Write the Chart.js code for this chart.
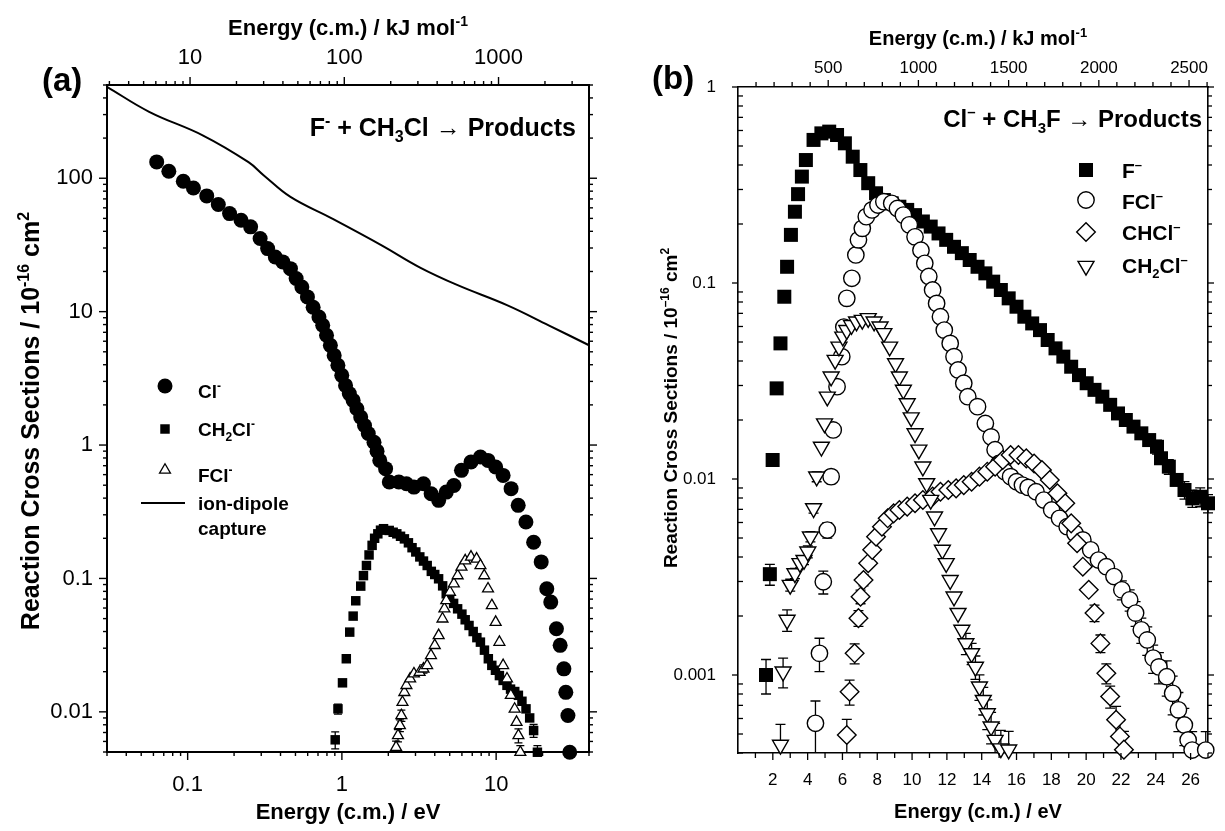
<!DOCTYPE html>
<html>
<head>
<meta charset="utf-8">
<title>Reaction cross sections</title>
<script src="https://cdn.jsdelivr.net/npm/chart.js@4.4.1/dist/chart.umd.min.js"></script>
<style>
    body { margin: 0; background: #fff; }
    #wrap { position: relative; width: 1225px; height: 831px; }
    #wrap canvas { position: absolute; top: 0; }
</style>
</head>
<body>
<div id="wrap">
    <canvas id="chartA" width="612" height="831" style="left:0"></canvas>
    <canvas id="chartB" width="613" height="831" style="left:612px"></canvas>
</div>
<script>
const KJ_PER_EV = 96.485

// start: data (a)  F- + CH3Cl
const aCaptureE = [0.03, 0.0563, 0.126, 0.248, 0.312, 0.464, 0.866, 1.81, 3.19, 5.63, 11.75, 21.9, 40]
const aCaptureS = [485, 315, 209, 132, 105, 72.4, 49.8, 31.4, 21.5, 15.8, 11.2, 7.9, 5.6]

const aClE = [0.063, 0.0755, 0.0937, 0.109, 0.133, 0.158, 0.187, 0.222, 0.256, 0.295,
    0.330, 0.370, 0.414, 0.464, 0.505, 0.550, 0.598, 0.651, 0.710, 0.751,
    0.795, 0.842, 0.891, 0.942, 0.998, 1.056, 1.117, 1.183, 1.251, 1.324,
    1.402, 1.483, 1.615, 1.69, 1.76, 1.92, 2.03, 2.34, 2.62, 2.93,
    3.38, 3.79, 4.24, 4.75, 5.32, 5.96, 6.87, 7.91, 8.86, 9.93,
    11.1, 12.5, 13.9, 15.6, 17.5, 19.6, 21.3, 22.6, 24.6, 26.0,
    27.5, 28.3, 29.2, 30.0]
const aClS = [132.6, 112.9, 95, 84.6, 73.7, 63.5, 54.3, 48.4, 43.2, 35.3,
    29.7, 25.7, 23.6, 21.0, 17.7, 15.3, 12.9, 10.8, 9.12, 7.90,
    6.65, 5.59, 4.70, 3.96, 3.33, 2.80, 2.43, 2.16, 1.87, 1.62,
    1.40, 1.22, 1.05, 0.90, 0.767, 0.665, 0.528, 0.528, 0.513, 0.484,
    0.513, 0.431, 0.385, 0.444, 0.498, 0.646, 0.746, 0.813, 0.767, 0.684,
    0.592, 0.471, 0.353, 0.265, 0.187, 0.133, 0.0837, 0.0665, 0.042, 0.0315,
    0.021, 0.014, 0.00939, 0.00498]

const aCh2ClE = [0.905, 0.943, 1.009, 1.068, 1.124, 1.183, 1.230, 1.325, 1.38, 1.443,
    1.50, 1.570, 1.63, 1.710, 1.78, 1.862, 2.027, 2.15, 2.270, 2.40,
    2.543, 2.70, 2.85, 3.014, 3.2, 3.38, 3.573, 3.8, 4.0, 4.236,
    4.5, 4.747, 5.0, 5.3, 5.627, 6.0, 6.3, 6.671, 7.1, 7.5,
    7.909, 8.4, 8.9, 9.375, 9.9, 10.50, 11.1, 11.76, 12.4, 13.2,
    13.94, 14.7, 15.62, 16.5, 17.50, 18.52]
const aCh2ClS = [0.00617, 0.01053, 0.0165, 0.0250, 0.0396, 0.0522, 0.0680, 0.0876, 0.105, 0.125,
    0.150, 0.177, 0.200, 0.216, 0.230, 0.236, 0.229, 0.222, 0.216, 0.207,
    0.198, 0.185, 0.170, 0.158, 0.145, 0.135, 0.125, 0.113, 0.107, 0.0994,
    0.088, 0.0767, 0.070, 0.065, 0.0592, 0.054, 0.049, 0.0444, 0.040, 0.036,
    0.0333, 0.029, 0.025, 0.0223, 0.0205, 0.0187, 0.0172, 0.0158, 0.0148, 0.0142,
    0.0133, 0.0120, 0.01053, 0.0090, 0.00724, 0.00498]
// [point index, error]
const aCh2ClErr = [[0, 0.0009], [1, 0.0009], [54, 0.0008], [55, 0.0006]]

const aFClE = [2.245, 2.31, 2.377, 2.43, 2.47, 2.54, 2.62, 2.77, 2.93, 3.19,
    3.38, 3.57, 3.78, 4.00, 4.24, 4.49, 4.62, 4.75, 5.02, 5.32,
    5.63, 5.96, 6.30, 6.87, 7.47, 7.91, 8.37, 8.86, 9.38, 9.93,
    10.5, 11.1, 11.76, 12.45, 13.18, 13.56, 13.95, 14.35]
const aFClS = [0.00543, 0.00665, 0.0079, 0.00939, 0.0118, 0.014, 0.0158, 0.0177, 0.0193, 0.0198,
    0.021, 0.0223, 0.0265, 0.0315, 0.0374, 0.0498, 0.0592, 0.0684, 0.079, 0.0912,
    0.105, 0.122, 0.136, 0.145, 0.14, 0.125, 0.105, 0.0837, 0.0627, 0.047,
    0.0333, 0.0223, 0.0177, 0.0133, 0.0105, 0.00837, 0.00665, 0.00498]
const aFClErr = [[0, 0.0006], [1, 0.0007], [2, 0.0008], [3, 0.0009], [10, 0.0015], [36, 0.0008], [37, 0.0006]]

const aEvLabels = [0.1, 1, 10]
const aKjLabels = [10, 100, 1000]
const aYLabels = [0.01, 0.1, 1, 10, 100]
// end: data (a)

// start: data (b)  Cl- + CH3F
const bFE = [1.61, 1.83, 1.99, 2.22, 2.44, 2.66, 2.82, 3.04, 3.27, 3.45,
    3.67, 3.90, 4.34, 4.79, 5.24, 5.69, 6.14, 6.59, 7.03, 7.48,
    7.93, 8.38, 8.83, 9.27, 9.72, 10.17, 10.62, 11.07, 11.52, 11.96,
    12.41, 12.86, 13.31, 13.76, 14.21, 14.66, 15.10, 15.55, 16.00, 16.45,
    16.90, 17.35, 17.79, 18.24, 18.69, 19.14, 19.59, 20.03, 20.48, 20.93,
    21.38, 21.83, 22.28, 22.72, 23.17, 23.62, 24.07, 24.30, 24.75, 25.20,
    25.65, 26.10, 26.55, 27.00]
const bFS = [0.001, 0.00327, 0.0125, 0.029, 0.0492, 0.0851, 0.121, 0.176, 0.231, 0.284,
    0.349, 0.424, 0.537, 0.580, 0.592, 0.569, 0.516, 0.441, 0.377, 0.323,
    0.287, 0.265, 0.255, 0.245, 0.236, 0.222, 0.206, 0.194, 0.179, 0.166,
    0.153, 0.142, 0.131, 0.121, 0.112, 0.1016, 0.0921, 0.0835, 0.0757, 0.0673,
    0.0622, 0.0575, 0.0512, 0.0464, 0.0421, 0.0374, 0.0339, 0.0308, 0.0285, 0.0263,
    0.0239, 0.0216, 0.0200, 0.0185, 0.0171, 0.0158, 0.0146, 0.01276, 0.01156, 0.00989,
    0.00879, 0.00796, 0.00812, 0.00752]
const bFErr = [[0, 0.0002], [1, 0.0004], [56, 0.0012], [58, 0.001], [60, 0.0009], [61, 0.0008], [62, 0.0009], [63, 0.0008]]

const bFClE = [4.45, 4.68, 4.90, 5.13, 5.35, 5.47, 5.69, 5.96, 6.08, 6.25,
    6.54, 6.77, 6.92, 7.14, 7.37, 7.70, 8.04, 8.38, 8.83, 9.16,
    9.50, 9.84, 10.17, 10.51, 10.73, 10.96, 11.18, 11.41, 11.63, 11.85,
    12.19, 12.41, 12.64, 12.97, 13.20, 13.76, 14.21, 14.54, 14.77, 14.99,
    15.33, 15.66, 16.00, 16.34, 16.67, 17.12, 17.57, 18.02, 18.47, 18.91,
    19.36, 19.81, 20.26, 20.71, 21.16, 21.60, 22.05, 22.50, 22.84, 23.17,
    23.51, 23.85, 24.18, 24.63, 24.97, 25.30, 25.64, 25.86, 26.09, 26.87]
const bFClS = [0.000567, 0.00129, 0.00299, 0.00549, 0.01028, 0.0178, 0.0296, 0.0421, 0.0596, 0.0835,
    0.1057, 0.139, 0.166, 0.190, 0.218, 0.236, 0.250, 0.260, 0.255, 0.240,
    0.222, 0.198, 0.172, 0.147, 0.126, 0.108, 0.0921, 0.0787, 0.0673, 0.0575,
    0.0492, 0.0421, 0.0360, 0.0308, 0.0263, 0.0234, 0.0192, 0.0164, 0.0141, 0.0120,
    0.0109, 0.01028, 0.00968, 0.00931, 0.00906, 0.00861, 0.00781, 0.00695, 0.00630, 0.00571,
    0.00528, 0.00489, 0.00435, 0.00386, 0.00357, 0.00318, 0.00272, 0.00242, 0.00207, 0.00170,
    0.00151, 0.00122, 0.00110, 0.00098, 0.000806, 0.000664, 0.000556, 0.000466, 0.000414, 0.000414]
const bFClErr = [[0, 0.00017], [1, 0.00025], [2, 0.0004], [3, 0.0005], [4, 0.0008],
    [56, 0.0003], [57, 0.0003], [58, 0.0003], [59, 0.00025], [60, 0.00025], [61, 0.0002], [62, 0.0002],
    [63, 0.0002], [64, 0.00018], [65, 0.00015], [66, 0.00012], [67, 0.0001], [68, 0.0001], [69, 0.0001]]

const bCHClE = [6.25, 6.41, 6.70, 6.92, 7.04, 7.21, 7.48, 7.71, 7.93, 8.27,
    8.60, 8.94, 9.27, 9.72, 10.17, 10.62, 11.18, 11.63, 12.08, 12.53,
    12.97, 13.42, 13.87, 14.32, 14.77, 15.21, 15.66, 16.11, 16.56, 17.01,
    17.46, 17.91, 18.35, 18.80, 19.14, 19.48, 19.81, 20.15, 20.48, 20.82,
    21.16, 21.38, 21.72, 21.94, 22.17]
const bCHClS = [0.000494, 0.000822, 0.00129, 0.00195, 0.00251, 0.00305, 0.00372, 0.00435, 0.00508, 0.00571,
    0.00630, 0.00668, 0.00695, 0.00723, 0.00752, 0.00782, 0.00813, 0.00861, 0.00879, 0.00896,
    0.00931, 0.00968, 0.01028, 0.0109, 0.01156, 0.0125, 0.01325, 0.01325, 0.01274, 0.0120,
    0.0111, 0.00989, 0.00845, 0.00752, 0.00594, 0.00470, 0.00357, 0.00272, 0.00207, 0.00145,
    0.00102, 0.000777, 0.000591, 0.000486, 0.000416]
const bCHClErr = [[0, 0.0001], [1, 0.00012], [2, 0.00015], [3, 0.00018], [4, 0.0002], [5, 0.0002],
    [38, 0.0002], [39, 0.00015], [40, 0.00012], [41, 0.0001], [42, 0.0001], [43, 0.0001], [44, 0.0001]]

const bCH2ClE = [2.44, 2.59, 2.82, 3.00, 3.27, 3.56, 3.79, 4.01, 4.16, 4.34,
    4.52, 4.79, 4.97, 5.13, 5.35, 5.58, 5.80, 6.02, 6.25, 6.52,
    6.81, 7.14, 7.48, 7.82, 8.16, 8.38, 8.71, 9.05, 9.27, 9.50,
    9.72, 9.95, 10.17, 10.39, 10.62, 10.84, 11.07, 11.29, 11.52, 11.74,
    11.96, 12.19, 12.41, 12.64, 12.86, 13.09, 13.42, 13.64, 13.87, 14.09,
    14.32, 14.54, 14.77, 15.10, 15.55]
const bCH2ClS = [0.00044, 0.00104, 0.00191, 0.00288, 0.00330, 0.00372, 0.00386, 0.00426, 0.00508, 0.00709,
    0.01028, 0.0146, 0.0192, 0.0263, 0.0333, 0.0405, 0.0473, 0.0532, 0.0575, 0.0610,
    0.0635, 0.0648, 0.0661, 0.0635, 0.0599, 0.0554, 0.0473, 0.0389, 0.0333, 0.0285,
    0.0243, 0.0206, 0.0171, 0.0141, 0.01156, 0.00951, 0.00782, 0.00643, 0.00528, 0.00435,
    0.00372, 0.00305, 0.00251, 0.00207, 0.00170, 0.00145, 0.00129, 0.00110, 0.000872, 0.000745,
    0.000637, 0.000545, 0.000466, 0.000422, 0.000416]
const bCH2ClErr = [[0, 0.00012], [1, 0.00018], [2, 0.00024], [3, 0.0002], [4, 0.0002], [5, 0.0002],
    [6, 0.0002], [7, 0.0003], [8, 0.0003], [9, 0.0004], [10, 0.0006],
    [45, 0.00018], [46, 0.00016], [47, 0.00015], [48, 0.00013], [49, 0.00012], [50, 0.00011],
    [51, 0.0001], [52, 0.0001], [53, 0.0001], [54, 0.0001]]

const bEvLabels = [2, 4, 6, 8, 10, 12, 14, 16, 18, 20, 22, 24, 26]
const bKjLabels = [500, 1000, 1500, 2000, 2500]
const bYLabels = [0.001, 0.01, 0.1, 1]
// end: data (b)

const FONT = "'Liberation Sans', Arial, Helvetica, sans-serif"
Chart.defaults.font.family = FONT
Chart.defaults.color = '#000'

function pts(xs, ys) {
    return xs.map((x, i) => ({ x: x, y: ys[i] }))
}

// tick lists: every 1..9 x 10^k on log axes, fixed step on linear ones
function logTicks(min, max, labels) {
    const out = []
    for (let k = Math.floor(Math.log10(min)); k <= Math.ceil(Math.log10(max)); k++) {
        for (let d = 1; d <= 9; d++) {
            const v = +(d * Math.pow(10, k)).toPrecision(3)
            if (v >= min * 0.9999 && v <= max * 1.0001) {
                out.push({ value: v, major: d === 1, txt: labels.includes(v) ? String(v) : '' })
            }
        }
    }
    return out
}

function linTicks(min, max, step, labels, majorStep) {
    const out = []
    for (let v = step; v <= max + 1e-9; v += step) {
        const r = Math.round(v * 1000) / 1000
        if (r < min) continue
        out.push({ value: r, major: Math.abs(r / majorStep - Math.round(r / majorStep)) < 1e-6, txt: labels.includes(r) ? String(r) : '' })
    }
    return out
}

function scale(o) {
    return {
        type: o.type,
        axis: o.axis,
        position: o.position,
        min: o.min,
        max: o.max,
        grid: { display: false, drawTicks: false },
        border: { display: true, color: '#000', width: o.border },
        afterBuildTicks: s => { s.ticks = o.ticks() },
        afterFit: s => {
            if (o.axis === 'x') s.height = o.size
            else s.width = o.size
        },
        ticks: {
            display: o.labels !== false,
            autoSkip: false,
            maxRotation: 0,
            minRotation: 0,
            padding: o.pad || 0,
            font: { size: o.font || 12 },
            callback: (v, i, t) => (t[i] && t[i].txt) || ''
        }
    }
}

// text with ^{sup} and _{sub}
function parseRich(s) {
    const out = []
    const re = /([\^_])\{([^}]*)\}/g
    let last = 0, m
    while ((m = re.exec(s))) {
        if (m.index > last) out.push([s.slice(last, m.index), 0])
        out.push([m[2], m[1] === '^' ? 1 : -1])
        last = re.lastIndex
    }
    if (last < s.length) out.push([s.slice(last), 0])
    return out
}

function drawRich(ctx, s, x, y, size, align) {
    const parts = parseRich(s)
    const f = k => 'bold ' + (k ? Math.round(size * 0.64) : size) + 'px ' + FONT
    let w = 0
    parts.forEach(p => { ctx.font = f(p[1]); p.w = ctx.measureText(p[0]).width; w += p.w })
    let cx = align === 'center' ? x - w / 2 : align === 'right' ? x - w : x
    ctx.textAlign = 'left'
    ctx.textBaseline = 'alphabetic'
    parts.forEach(p => {
        ctx.font = f(p[1])
        const dy = p[1] > 0 ? -size * 0.42 : p[1] < 0 ? size * 0.24 : 0
        ctx.fillText(p[0], cx, y + dy)
        cx += p.w
    })
}

function drawMarker(ctx, m, x, y) {
    ctx.save()
    ctx.fillStyle = m.fill
    ctx.strokeStyle = '#000'
    ctx.lineWidth = m.bw || 0
    ctx.beginPath()
    const r = m.r
    if (m.style === 'circle') {
        ctx.arc(x, y, r, 0, Math.PI * 2)
    } else if (m.style === 'rect') {
        const h = r * Math.SQRT1_2
        ctx.rect(x - h, y - h, 2 * h, 2 * h)
    } else if (m.style === 'rectRot') {
        ctx.moveTo(x - r, y); ctx.lineTo(x, y - r); ctx.lineTo(x + r, y); ctx.lineTo(x, y + r)
        ctx.closePath()
    } else if (m.style === 'triangle') {
        let a = (m.rot || 0) * Math.PI / 180
        for (let i = 0; i < 3; i++) {
            const px = x + Math.sin(a) * r, py = y - Math.cos(a) * r
            if (i === 0) ctx.moveTo(px, py); else ctx.lineTo(px, py)
            a += Math.PI * 2 / 3
        }
        ctx.closePath()
    } else if (m.style === 'line') {
        ctx.moveTo(x - m.len / 2, y); ctx.lineTo(x + m.len / 2, y)
        ctx.lineWidth = 2
        ctx.stroke()
        ctx.restore()
        return
    }
    ctx.fill()
    if (m.bw) ctx.stroke()
    ctx.restore()
}

// error bars under the markers, tick marks, texts and legend on top
function decorations(id, cfg) {
    return {
        id: id,
        beforeDatasetsDraw(chart) {
            const ctx = chart.ctx, xs = chart.scales.x, ys = chart.scales.y
            ctx.save()
            ctx.strokeStyle = '#000'
            ctx.lineWidth = cfg.errWidth
            cfg.errors.forEach(e => {
                e.err.forEach(([i, d]) => {
                    const px = xs.getPixelForValue(e.xs[i])
                    const top = ys.getPixelForValue(e.ys[i] + d)
                    const lo = Math.max(e.ys[i] - d, ys.min)
                    const bot = ys.getPixelForValue(lo)
                    ctx.beginPath()
                    ctx.moveTo(px, top); ctx.lineTo(px, bot)
                    ctx.moveTo(px - cfg.cap, top); ctx.lineTo(px + cfg.cap, top)
                    if (lo > ys.min) { ctx.moveTo(px - cfg.cap, bot); ctx.lineTo(px + cfg.cap, bot) }
                    ctx.stroke()
                })
            })
            ctx.restore()
        },
        afterDraw(chart) {
            const ctx = chart.ctx
            ctx.save()
            ctx.strokeStyle = '#000'
            ctx.lineWidth = cfg.tickWidth
            for (const sid in cfg.ticks) {
                const s = chart.scales[sid], c = cfg.ticks[sid]
                s.ticks.forEach(t => {
                    const p = s.getPixelForValue(t.value)
                    const len = t.major ? c.major : c.minor
                    const dir = t.major ? c.dirMajor : c.dirMinor
                    const sg = dir === 'in' ? 1 : -1
                    ctx.beginPath()
                    if (s.position === 'left') { ctx.moveTo(s.right, p); ctx.lineTo(s.right + sg * len, p) }
                    else if (s.position === 'right') { ctx.moveTo(s.left, p); ctx.lineTo(s.left - sg * len, p) }
                    else if (s.position === 'top') { ctx.moveTo(p, s.bottom); ctx.lineTo(p, s.bottom + sg * len) }
                    else { ctx.moveTo(p, s.top); ctx.lineTo(p, s.top - sg * len) }
                    ctx.stroke()
                })
            }
            ctx.fillStyle = '#000'
            cfg.texts.forEach(t => {
                if (t.rot) {
                    ctx.save()
                    ctx.translate(t.x, t.y)
                    ctx.rotate(-Math.PI / 2)
                    drawRich(ctx, t.s, 0, t.size * 0.36, t.size, 'center')
                    ctx.restore()
                } else {
                    drawRich(ctx, t.s, t.x, t.y, t.size, t.align)
                }
            })
            cfg.legend.forEach(l => {
                drawMarker(ctx, l.m, l.mx, l.my)
                l.lines.forEach((s, i) => drawRich(ctx, s, l.tx, l.ty + i * l.lh, l.size, 'left'))
            })
            ctx.restore()
        }
    }
}

// start: panel (a)
const aXMin = 0.03, aXMax = 40, aYMin = 0.005, aYMax = 500

const mClA = { style: 'circle', r: 7.5, fill: '#000' }
const mCh2A = { style: 'rect', r: 6.7, fill: '#000' }
const mFClA = { style: 'triangle', r: 6.3, fill: '#fff', bw: 1.3 }

const chartA = new Chart(document.getElementById('chartA'), {
    type: 'scatter',
    data: {
        datasets: [{
            label: 'ion-dipole capture',
            data: pts(aCaptureE, aCaptureS),
            showLine: true,
            borderColor: '#000',
            borderWidth: 2,
            pointRadius: 0,
            tension: 0.4,
            order: 4
        }, {
            label: 'Cl-',
            data: pts(aClE, aClS),
            pointStyle: 'circle',
            pointRadius: mClA.r,
            backgroundColor: '#000',
            borderWidth: 0,
            clip: false,
            order: 3
        }, {
            label: 'CH2Cl-',
            data: pts(aCh2ClE, aCh2ClS),
            pointStyle: 'rect',
            pointRadius: mCh2A.r,
            backgroundColor: '#000',
            borderWidth: 0,
            clip: false,
            order: 2
        }, {
            label: 'FCl-',
            data: pts(aFClE, aFClS),
            pointStyle: 'triangle',
            pointRadius: mFClA.r,
            backgroundColor: '#fff',
            borderColor: '#000',
            borderWidth: mFClA.bw,
            clip: false,
            order: 1
        }]
    },
    options: {
        responsive: false,
        animation: false,
        devicePixelRatio: 1,
        events: [],
        layout: { padding: 0 },
        plugins: { legend: { display: false }, tooltip: { enabled: false } },
        scales: {
            x: scale({ type: 'logarithmic', axis: 'x', position: 'bottom', min: aXMin, max: aXMax, size: 79, pad: 20, font: 22, border: 2,
                ticks: () => logTicks(aXMin, aXMax, aEvLabels) }),
            xTop: scale({ type: 'logarithmic', axis: 'x', position: 'top', min: aXMin * KJ_PER_EV, max: aXMax * KJ_PER_EV, size: 85, pad: 14, font: 22, border: 2,
                ticks: () => logTicks(aXMin * KJ_PER_EV, aXMax * KJ_PER_EV, aKjLabels) }),
            y: scale({ type: 'logarithmic', axis: 'y', position: 'left', min: aYMin, max: aYMax, size: 107, pad: 14, font: 22, border: 2,
                ticks: () => logTicks(aYMin, aYMax, aYLabels) }),
            yRight: scale({ type: 'logarithmic', axis: 'y', position: 'right', min: aYMin, max: aYMax, size: 23, labels: false, border: 2,
                ticks: () => logTicks(aYMin, aYMax, []) })
        }
    },
    plugins: [decorations('decoA', {
        tickWidth: 1.4,
        errWidth: 1.3,
        cap: 4,
        errors: [
            { xs: aCh2ClE, ys: aCh2ClS, err: aCh2ClErr },
            { xs: aFClE, ys: aFClS, err: aFClErr }
        ],
        ticks: {
            x: { major: 8, minor: 4, dirMajor: 'out', dirMinor: 'out' },
            xTop: { major: 8, minor: 4, dirMajor: 'out', dirMinor: 'out' },
            y: { major: 8, minor: 4, dirMajor: 'out', dirMinor: 'out' },
            yRight: { major: 8, minor: 4, dirMajor: 'out', dirMinor: 'out' }
        },
        texts: [
            { s: '(a)', x: 42, y: 91, size: 33, align: 'left' },
            { s: 'Energy (c.m.) / kJ mol^{-1}', x: 348, y: 35, size: 22, align: 'center' },
            { s: 'Energy (c.m.) / eV', x: 348, y: 819, size: 22, align: 'center' },
            { s: 'Reaction Cross Sections / 10^{-16} cm^{2}', x: 30, y: 421, size: 25, rot: true },
            { s: 'F^{-} + CH_{3}Cl \u2192 Products', x: 576, y: 136, size: 25, align: 'right' }
        ],
        legend: [
            { m: mClA, mx: 165, my: 386, tx: 198, ty: 398, size: 19, lh: 0, lines: ['Cl^{-}'] },
            { m: mCh2A, mx: 165, my: 429, tx: 198, ty: 436, size: 19, lh: 0, lines: ['CH_{2}Cl^{-}'] },
            { m: mFClA, mx: 165, my: 470, tx: 198, ty: 482, size: 19, lh: 0, lines: ['FCl^{-}'] },
            { m: { style: 'line', len: 44 }, mx: 163, my: 503, tx: 198, ty: 510, size: 19, lh: 25, lines: ['ion-dipole', 'capture'] }
        ]
    })]
})
// end: panel (a)

// start: panel (b)
const bXMin = 0, bXMax = 27, bYMin = 0.0004, bYMax = 1
const OFF = 612

const mFB = { style: 'rect', r: 9.9, fill: '#000' }
const mFClB = { style: 'circle', r: 8.2, fill: '#fff', bw: 1.4 }
const mCHClB = { style: 'rectRot', r: 9.3, fill: '#fff', bw: 1.4 }
const mCH2ClB = { style: 'triangle', r: 9.2, rot: 180, fill: '#fff', bw: 1.4 }

const chartB = new Chart(document.getElementById('chartB'), {
    type: 'scatter',
    data: {
        datasets: [{
            label: 'F-',
            data: pts(bFE, bFS),
            pointStyle: 'rect',
            pointRadius: mFB.r,
            backgroundColor: '#000',
            borderWidth: 0,
            clip: false,
            order: 4
        }, {
            label: 'FCl-',
            data: pts(bFClE, bFClS),
            pointStyle: 'circle',
            pointRadius: mFClB.r,
            backgroundColor: '#fff',
            borderColor: '#000',
            borderWidth: mFClB.bw,
            clip: false,
            order: 3
        }, {
            label: 'CHCl-',
            data: pts(bCHClE, bCHClS),
            pointStyle: 'rectRot',
            pointRadius: mCHClB.r,
            backgroundColor: '#fff',
            borderColor: '#000',
            borderWidth: mCHClB.bw,
            clip: false,
            order: 2
        }, {
            label: 'CH2Cl-',
            data: pts(bCH2ClE, bCH2ClS),
            pointStyle: 'triangle',
            rotation: 180,
            pointRadius: mCH2ClB.r,
            backgroundColor: '#fff',
            borderColor: '#000',
            borderWidth: mCH2ClB.bw,
            clip: false,
            order: 1
        }]
    },
    options: {
        responsive: false,
        animation: false,
        devicePixelRatio: 1,
        events: [],
        layout: { padding: 0 },
        plugins: { legend: { display: false }, tooltip: { enabled: false } },
        scales: {
            x: scale({ type: 'linear', axis: 'x', position: 'bottom', min: bXMin, max: bXMax, size: 78, pad: 17, font: 17, border: 1.6,
                ticks: () => linTicks(bXMin, bXMax, 1, bEvLabels, 2) }),
            xTop: scale({ type: 'linear', axis: 'x', position: 'top', min: bXMin * KJ_PER_EV, max: bXMax * KJ_PER_EV, size: 87, pad: 8, font: 17, border: 1.6,
                ticks: () => linTicks(bXMin * KJ_PER_EV, bXMax * KJ_PER_EV, 100, bKjLabels, 500) }),
            y: scale({ type: 'logarithmic', axis: 'y', position: 'left', min: bYMin, max: bYMax, size: 126, pad: 22, font: 17, border: 1.6,
                ticks: () => logTicks(bYMin, bYMax, bYLabels) }),
            yRight: scale({ type: 'logarithmic', axis: 'y', position: 'right', min: bYMin, max: bYMax, size: 7, labels: false, border: 1.6,
                ticks: () => logTicks(bYMin, bYMax, []) })
        }
    },
    plugins: [decorations('decoB', {
        tickWidth: 1.3,
        errWidth: 1.3,
        cap: 5,
        errors: [
            { xs: bFE, ys: bFS, err: bFErr },
            { xs: bFClE, ys: bFClS, err: bFClErr },
            { xs: bCHClE, ys: bCHClS, err: bCHClErr },
            { xs: bCH2ClE, ys: bCH2ClS, err: bCH2ClErr }
        ],
        ticks: {
            x: { major: 7, minor: 5, dirMajor: 'out', dirMinor: 'out' },
            xTop: { major: 7, minor: 5, dirMajor: 'out', dirMinor: 'out' },
            y: { major: 6, minor: 5, dirMajor: 'out', dirMinor: 'in' },
            yRight: { major: 6, minor: 4, dirMajor: 'out', dirMinor: 'out' }
        },
        texts: [
            { s: '(b)', x: 652 - OFF, y: 89, size: 33, align: 'left' },
            { s: 'Energy (c.m.) / kJ mol^{-1}', x: 978 - OFF, y: 45, size: 20, align: 'center' },
            { s: 'Energy (c.m.) / eV', x: 978 - OFF, y: 818, size: 20, align: 'center' },
            { s: 'Reaction Cross Sections / 10^{\u201316} cm^{2}', x: 670 - OFF, y: 408, size: 19, rot: true },
            { s: 'Cl^{\u2013} + CH_{3}F \u2192 Products', x: 1202 - OFF, y: 127, size: 24, align: 'right' }
        ],
        legend: [
            { m: mFB, mx: 1086 - OFF, my: 170, tx: 1122 - OFF, ty: 178, size: 21, lh: 0, lines: ['F^{\u2013}'] },
            { m: mFClB, mx: 1086 - OFF, my: 200, tx: 1122 - OFF, ty: 209, size: 21, lh: 0, lines: ['FCl^{\u2013}'] },
            { m: mCHClB, mx: 1086 - OFF, my: 232, tx: 1122 - OFF, ty: 240, size: 21, lh: 0, lines: ['CHCl^{\u2013}'] },
            { m: mCH2ClB, mx: 1086 - OFF, my: 266, tx: 1122 - OFF, ty: 273, size: 21, lh: 0, lines: ['CH_{2}Cl^{\u2013}'] }
        ]
    })]
})
// end: panel (b)
</script>
</body>
</html>
